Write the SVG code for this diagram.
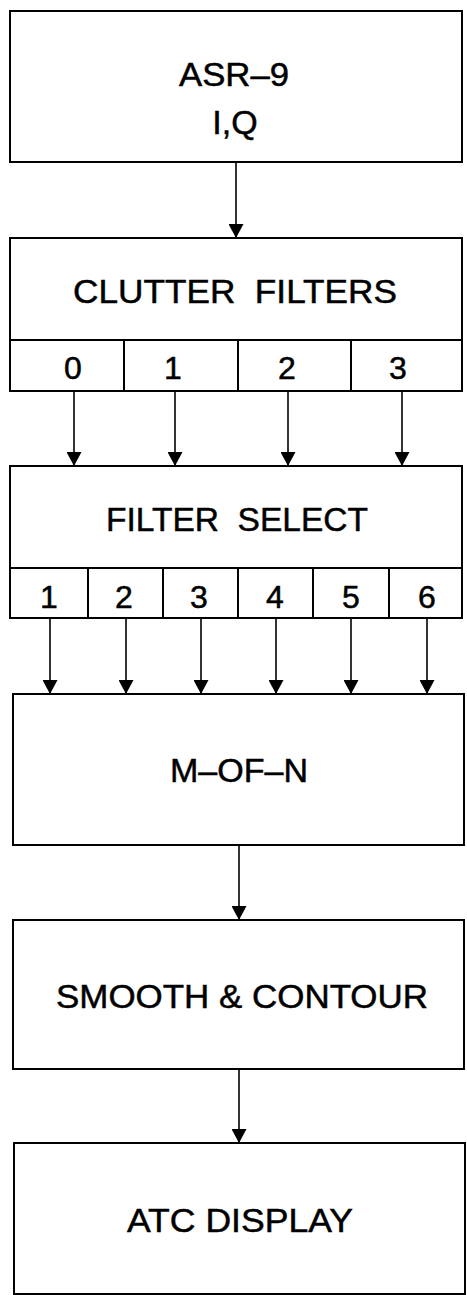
<svg xmlns="http://www.w3.org/2000/svg" width="467" height="1295" viewBox="0 0 467 1295">
<style>
.box{fill:#fff;stroke:#000;stroke-width:2}
.div{stroke:#000;stroke-width:2;fill:none}
.t{font-family:"Liberation Sans",Arial,sans-serif;font-size:34px;fill:#000;stroke:#000;stroke-width:0.5;text-anchor:middle}
.d{font-family:"Liberation Sans",Arial,sans-serif;font-size:32px;fill:#000;stroke:#000;stroke-width:0.5;text-anchor:middle}
.c{stroke:#000;stroke-width:1.6;fill:none;marker-end:url(#ah)}
</style>
<defs>
<marker id="ah" markerUnits="userSpaceOnUse" markerWidth="14" markerHeight="15" viewBox="0 0 14 15" refX="14" refY="7.5" orient="auto">
<path d="M0,0 L14,7.5 L0,15 z" fill="#000"/>
</marker>
</defs>
<rect width="467" height="1295" fill="#fff"/>
<g id="connectors">
<line class="c" x1="236" y1="162" x2="236" y2="238"/>
<line class="c" x1="74" y1="391" x2="74" y2="466"/>
<line class="c" x1="175" y1="391" x2="175" y2="466"/>
<line class="c" x1="288" y1="391" x2="288" y2="466"/>
<line class="c" x1="402" y1="391" x2="402" y2="466"/>
<line class="c" x1="50" y1="618" x2="50" y2="694"/>
<line class="c" x1="126" y1="618" x2="126" y2="694"/>
<line class="c" x1="201" y1="618" x2="201" y2="694"/>
<line class="c" x1="276" y1="618" x2="276" y2="694"/>
<line class="c" x1="351" y1="618" x2="351" y2="694"/>
<line class="c" x1="427" y1="618" x2="427" y2="694"/>
<line class="c" x1="239" y1="845" x2="239" y2="920"/>
<line class="c" x1="239" y1="1069" x2="239" y2="1143"/>
</g>
<g id="asr9">
<rect class="box" x="10" y="11" width="452" height="151"/>
<text class="t" x="234" y="86" textLength="110" lengthAdjust="spacingAndGlyphs">ASR–9</text>
<text class="t" x="235" y="134">I,Q</text>
</g>
<g id="clutter-filters">
<rect class="box" x="10" y="238" width="452" height="153"/>
<line class="div" x1="10" y1="340" x2="462" y2="340"/>
<line class="div" x1="124" y1="340" x2="124" y2="391"/>
<line class="div" x1="238" y1="340" x2="238" y2="391"/>
<line class="div" x1="351" y1="340" x2="351" y2="391"/>
<text class="t" x="235" y="303" textLength="324" lengthAdjust="spacingAndGlyphs" xml:space="preserve">CLUTTER  FILTERS</text>
<text class="d" x="73" y="379">0</text>
<text class="d" x="173" y="379">1</text>
<text class="d" x="287" y="379">2</text>
<text class="d" x="398" y="379">3</text>
</g>
<g id="filter-select">
<rect class="box" x="10" y="466" width="452" height="152"/>
<line class="div" x1="10" y1="568" x2="462" y2="568"/>
<line class="div" x1="88" y1="568" x2="88" y2="618"/>
<line class="div" x1="163" y1="568" x2="163" y2="618"/>
<line class="div" x1="238" y1="568" x2="238" y2="618"/>
<line class="div" x1="313" y1="568" x2="313" y2="618"/>
<line class="div" x1="389" y1="568" x2="389" y2="618"/>
<text class="t" x="237" y="531" textLength="262" lengthAdjust="spacingAndGlyphs" xml:space="preserve">FILTER  SELECT</text>
<text class="d" x="49" y="608">1</text>
<text class="d" x="124" y="608">2</text>
<text class="d" x="199" y="608">3</text>
<text class="d" x="275" y="608">4</text>
<text class="d" x="351" y="608">5</text>
<text class="d" x="427" y="608">6</text>
</g>
<g id="m-of-n">
<rect class="box" x="13" y="694" width="451" height="151"/>
<text class="t" x="239" y="782" textLength="138" lengthAdjust="spacingAndGlyphs">M–OF–N</text>
</g>
<g id="smooth-contour">
<rect class="box" x="13" y="920" width="451" height="149"/>
<text class="t" x="242" y="1008" textLength="372" lengthAdjust="spacingAndGlyphs">SMOOTH &amp; CONTOUR</text>
</g>
<g id="atc-display">
<rect class="box" x="14" y="1143" width="451" height="151"/>
<text class="t" x="240" y="1232" textLength="226" lengthAdjust="spacingAndGlyphs">ATC DISPLAY</text>
</g>
</svg>
